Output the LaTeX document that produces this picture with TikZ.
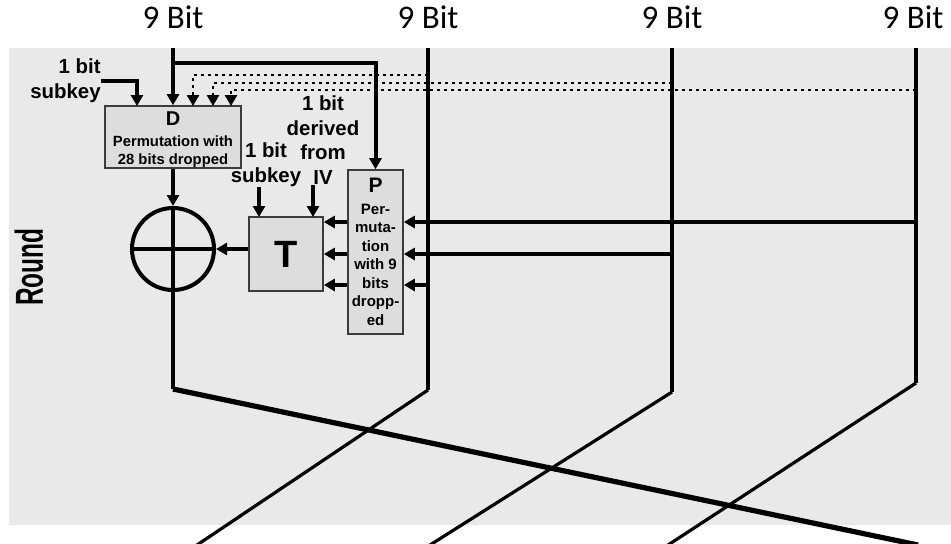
\documentclass[tikz,border=0pt]{standalone}
\usepackage{fontspec}
\setmainfont{Liberation Sans}
\newfontfamily\bitfont{Carlito}
\usetikzlibrary{arrows.meta,positioning,calc}
\definecolor{roundgray}{RGB}{233,233,233}
\definecolor{boxgray}{RGB}{221,221,221}
\definecolor{edgegray}{RGB}{60,60,60}

\begin{document}
\begin{tikzpicture}[x=0.5pt,y=-0.5pt,>={Triangle[length=5.5pt,width=6pt]},
  wire/.style={line width=2pt},
  arr/.style={wire,->},
  dots/.style={line width=1.3pt,dash pattern=on 1.3pt off 2.2pt},
  blk/.style={draw=edgegray,fill=boxgray,line width=0.8pt,inner sep=0pt,align=center,font=\bfseries},
  lbl/.style={font=\bfseries\fontsize{10.2pt}{12.4pt}\selectfont,align=center,inner sep=0pt}]
  \useasboundingbox (0,0) rectangle (951,543);
  \fill[roundgray] (9,48) rectangle (951,525);

  \node[anchor=base,font=\bitfont\fontsize{16.5pt}{16.5pt}\selectfont] (b1) at (173,28) {9 Bit};
  \node[anchor=base,font=\bitfont\fontsize{16.5pt}{16.5pt}\selectfont] (b2) at (428,28) {9 Bit};
  \node[anchor=base,font=\bitfont\fontsize{16.5pt}{16.5pt}\selectfont] (b3) at (672,28) {9 Bit};
  \node[anchor=base,font=\bitfont\fontsize{16.5pt}{16.5pt}\selectfont] (b4) at (913,28) {9 Bit};
  \node[rotate=90,font=\bfseries\fontsize{12.2pt}{12.2pt}\selectfont] (rnd) at (29,267) {\scalebox{1}[1.6]{Round}};

  \node[blk,minimum width=68pt,minimum height=31pt,font=\bfseries\fontsize{7.4pt}{9pt}\selectfont] (dbox) at (173,137)
    {\rule{0pt}{10pt}{\fontsize{10pt}{10pt}\selectfont D}\\[1.5pt] Permutation with\\ 28 bits dropped};
  \node[blk,minimum width=27.5pt,minimum height=82pt,font=\bfseries\fontsize{7.5pt}{9.25pt}\selectfont] (pbox) at (375.5,252)
    {{\fontsize{10.5pt}{10.5pt}\selectfont P}\\[1.5pt] Per-\\ muta-\\ tion\\ with 9\\ bits\\ dropp-\\ ed};
  \node[blk,minimum width=37pt,minimum height=37pt,font=\bfseries\fontsize{19pt}{19pt}\selectfont] (tbox) at (286,254) {T};
  \node[circle,draw,line width=2pt,minimum size=41pt,inner sep=0pt] (xor) at (173,249) {};
  \draw[wire] (xor.west) -- (xor.east) (xor.north) -- (xor.south);

  \node[lbl,anchor=east,align=right] (ksub) at (101,81) {1 bit\\subkey};
  \node[lbl] (tsub) at (266,165) {1 bit\\subkey};
  \node[lbl] (tiv) at (323,140) {1 bit\\derived\\from\\IV};

  \coordinate (s1) at (173,48); \coordinate (s2) at (428,48);
  \coordinate (s3) at (672,48); \coordinate (s4) at (916,48);
  \coordinate (c1) at (173,389); \coordinate (c2) at (428,390);
  \coordinate (c3) at (672,392); \coordinate (c4) at (916,383);
  \coordinate (e1) at (918,545); \coordinate (e2) at (197,545);
  \coordinate (e3) at (430,545); \coordinate (e4) at (668,545);
  \coordinate (br) at (173,63);
  \coordinate (dk) at (137,106);
  \coordinate (dd1) at (193,106); \coordinate (dd2) at (213,106); \coordinate (dd3) at (231,106);
  \coordinate (dt1) at (428,75); \coordinate (dt2) at (672,83); \coordinate (dt3) at (916,90);
  \coordinate (t4) at (916,222); \coordinate (t3) at (672,254); \coordinate (t2) at (428,285);
  \coordinate (tk1) at (259,217); \coordinate (tk2) at (313,217);

  \draw[dots,->] (dt1) -| (dd1);
  \draw[dots,->] (dt2) -| (dd2);
  \draw[dots,->] (dt3) -| (dd3);

  \draw[arr] (s1) -- (dbox.north);
  \draw[arr] (br) -| (pbox.north);
  \draw[arr] (ksub.east) -| (dk);
  \draw[arr] (dbox.south) -- (xor.north);
  \draw[wire] (xor.south) -- (c1);
  \draw[line width=2.6pt] (c1) -- (e1);
  \draw[wire] (s2) -- (c2);
  \draw[line width=1.6pt] (c2) -- (e2);
  \draw[wire] (s3) -- (c3);
  \draw[line width=1.6pt] (c3) -- (e3);
  \draw[wire] (s4) -- (c4);
  \draw[line width=1.6pt] (c4) -- (e4);

  \draw[arr] (t4) -- (t4 -| pbox.east);
  \draw[arr] (t3) -- (t3 -| pbox.east);
  \draw[arr] (t2) -- (t2 -| pbox.east);
  \draw[arr] (t4 -| pbox.west) -- (t4 -| tbox.east);
  \draw[arr] (t3 -| pbox.west) -- (t3 -| tbox.east);
  \draw[arr] (t2 -| pbox.west) -- (t2 -| tbox.east);
  \draw[arr] (tk1 |- tsub.south) -- (tk1);
  \draw[arr] (tk2 |- tiv.south) -- (tk2);
  \draw[arr] (tbox.west |- xor) -- (xor.east);
\end{tikzpicture}
\end{document}
